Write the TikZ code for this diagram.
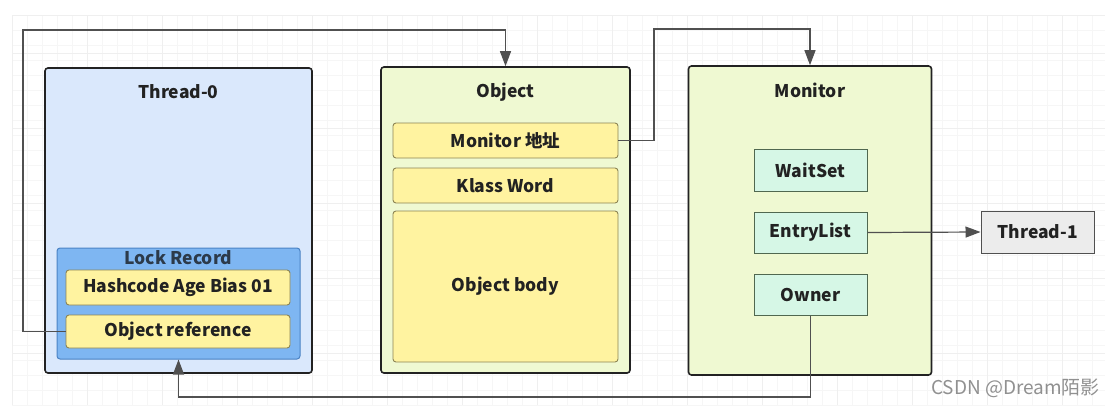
\documentclass[tikz,border=0pt]{standalone}
\usepackage{fontspec}
\setmainfont{Noto Sans CJK SC}
\usetikzlibrary{arrows.meta}
\definecolor{gridc}{HTML}{EFEFEF}
\definecolor{gridm}{HTML}{F6F6F6}
\definecolor{borderc}{HTML}{222222}
\definecolor{threadf}{HTML}{DAE8FC}
\definecolor{lockf}{HTML}{7EB6F2}
\definecolor{lockd}{HTML}{4A82C4}
\definecolor{yelf}{HTML}{FFF3A0}
\definecolor{yeld}{HTML}{8C8454}
\definecolor{greenf}{HTML}{EFF9D2}
\definecolor{mintf}{HTML}{D6F7E6}
\definecolor{mintd}{HTML}{506850}
\definecolor{grayf}{HTML}{ECECEC}
\definecolor{linec}{HTML}{505050}
\definecolor{textc}{HTML}{222222}
\definecolor{markc}{HTML}{909090}
\tikzset{
  every node/.style={text=textc, font=\bfseries\fontsize{17.5}{20}\selectfont},
  bigbox/.style={draw=borderc, line width=1.6pt, rounded corners=3pt, inner sep=0pt},
  lockbox/.style={draw=lockd, fill=lockf, line width=1pt, rounded corners=3pt, inner sep=0pt},
  yelbox/.style={draw=yeld, fill=yelf, line width=0.9pt, rounded corners=3pt, inner sep=0pt},
  mintbox/.style={draw=mintd, fill=mintf, line width=1pt, inner sep=0pt},
  graybox/.style={draw=linec, fill=grayf, line width=1pt, inner sep=0pt},
  conn/.style={draw=linec, line width=1.2pt},
  arr/.style={conn, -{Triangle[length=15pt,width=11pt]}}
}
\begin{document}
\begin{tikzpicture}[x=1pt,y=-1pt]
\useasboundingbox (0,0) rectangle (1118,405);
\fill[white] (0,0) rectangle (1118,405);
% background grid
\foreach \gx in {12,27,...,1105} \draw[gridm, line width=0.6pt] (\gx,15) -- (\gx,405);
\foreach \gy in {15,30,...,405} \draw[gridm, line width=0.6pt] (12,\gy) -- (1105,\gy);
\foreach \gx in {12,87,...,1105} \draw[gridc, line width=0.9pt] (\gx,15) -- (\gx,405);
\foreach \gy in {15,53,128,203,278,353} \draw[gridc, line width=0.9pt] (12,\gy) -- (1105,\gy);

% Thread-0
\node[bigbox, fill=threadf, minimum width=267pt, minimum height=305pt] (t0) at (178.5,220.5) {};
\node (t0t) at (178.5,92) {Thread-0};
\node[lockbox, minimum width=243pt, minimum height=111pt] (lr) at (178.5,303.5) {};
\node[text=textc!75!lockd] (lrt) at (178.5,258) {Lock Record};
\node[yelbox, minimum width=224pt, minimum height=35pt] (hash) at (178,287.5) {Hashcode Age Bias 01};
\node[yelbox, minimum width=224pt, minimum height=33pt] (oref) at (178,331.5) {Object reference};

% Object
\node[bigbox, fill=greenf, minimum width=249pt, minimum height=306pt] (obj) at (505.5,220) {};
\node (objt) at (505.5,92) {Object};
\node[yelbox, minimum width=225pt, minimum height=35pt] (maddr) at (505.5,140.5) {Monitor 地址};
\node[yelbox, minimum width=225pt, minimum height=35pt] (klass) at (505.5,185.5) {Klass Word};
\node[yelbox, minimum width=225pt, minimum height=151pt] (body) at (505.5,286.5) {Object body};

% Monitor
\node[bigbox, fill=greenf, minimum width=243pt, minimum height=309pt] (mon) at (810,220.5) {};
\node (mont) at (810,90) {Monitor};
\node[mintbox, minimum width=113pt, minimum height=42pt] (ws) at (810.5,170) {WaitSet};
\node[mintbox, minimum width=113pt, minimum height=41pt] (el) at (810.5,232.5) {EntryList};
\node[mintbox, minimum width=113pt, minimum height=41pt] (own) at (810.5,294.5) {Owner};

% Thread-1
\node[graybox, minimum width=113pt, minimum height=42pt] (t1) at (1037.5,232) {Thread-1};

% connectors
\coordinate (c1) at (23,30);
\coordinate (c2) at (654,29);
\coordinate (c3) at (178.5,397);
\draw[arr] (oref.west) -| (c1) -| (obj.north);
\draw[arr] (maddr.east) -| (c2) -| (mon.north);
\draw[arr] (el.east) -- (t1.west);
\draw[arr] (own.south) |- (c3) -- (lr.south);

% watermark
\node[font=\fontsize{19}{21}\selectfont, text=markc, inner sep=0pt] (wm) at (1015.5,388) {CSDN @Dream陌影};
\end{tikzpicture}
\end{document}
